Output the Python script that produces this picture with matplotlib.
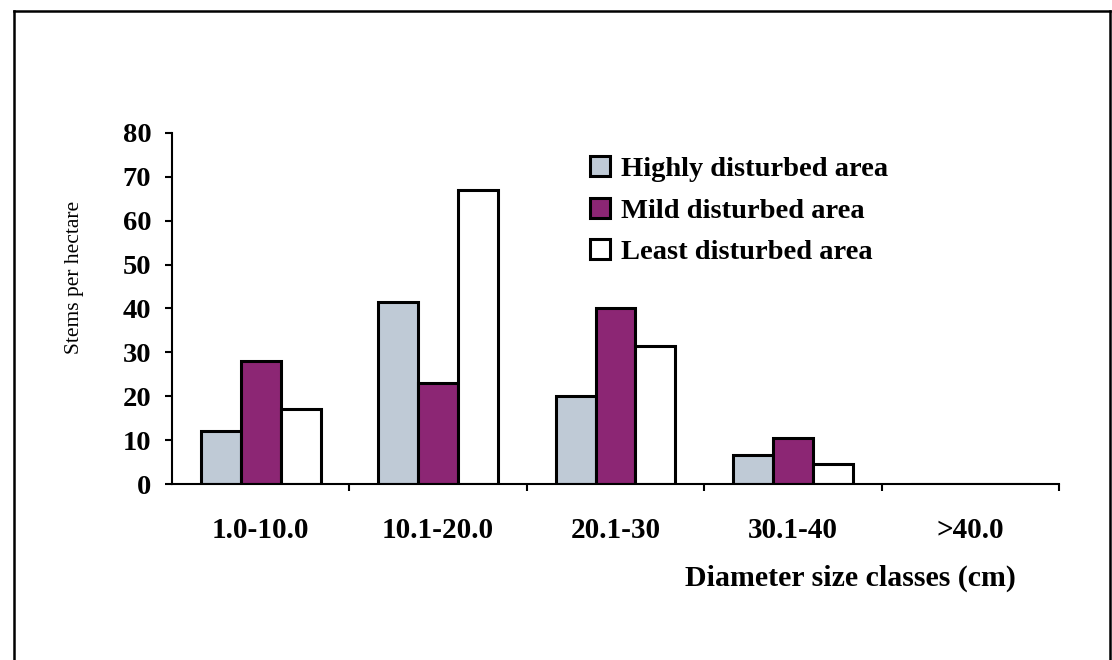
import matplotlib
matplotlib.use("Agg")
import matplotlib.pyplot as plt
import numpy as np
from matplotlib.lines import Line2D

categories = ["1.0-10.0", "10.1-20.0", "20.1-30", "30.1-40", ">40.0"]
highly = [12, 41.5, 20, 6.5, 0]
mild = [28, 23, 40, 10.5, 0]
least = [17, 67, 31.5, 4.5, 0]
series_names = ["Highly disturbed area", "Mild disturbed area", "Least disturbed area"]
yticks = [0, 10, 20, 30, 40, 50, 60, 70, 80]

plt.rcParams['font.family'] = ['Liberation Serif', 'DejaVu Serif']

W, H = 1112, 660
fig = plt.figure(figsize=(W / 100, H / 100), dpi=100)
ax = fig.add_axes([172 / W, 1 - 484 / H, (1059 - 172) / W, (484 - 133) / H])

x = np.arange(len(categories))
bw = 0.225
colors = ["#bfcad6", "#8c2674", "#ffffff"]
lw_bar = 2.2
b1 = ax.bar(x - bw, highly, bw, color=colors[0], edgecolor="black", linewidth=lw_bar, label=series_names[0])
b2 = ax.bar(x, mild, bw, color=colors[1], edgecolor="black", linewidth=lw_bar, label=series_names[1])
b3 = ax.bar(x + bw, least, bw, color=colors[2], edgecolor="black", linewidth=lw_bar, label=series_names[2])

ax.set_xlim(-0.5, len(categories) - 0.5)
ax.set_ylim(0, 80)
ax.set_yticks(yticks)
ax.set_xticks(x)
ax.set_xticklabels(categories, fontsize=21, fontweight="bold")
ax.set_xticks(np.arange(len(categories)) + 0.5, minor=True)
ax.tick_params(axis="x", which="major", length=0, pad=24)
ax.tick_params(axis="x", which="minor", length=5, width=1.5, direction="out")
ax.tick_params(axis="y", which="major", length=5, width=1.5, direction="out", pad=10, labelsize=20.5)
for lab in ax.get_yticklabels():
    lab.set_fontweight("bold")

for s in ["top", "right"]:
    ax.spines[s].set_visible(False)
for s in ["left", "bottom"]:
    ax.spines[s].set_linewidth(1.5)

leg = fig.legend(handles=[b1, b2, b3], loc="upper left",
                 bbox_to_anchor=(590 / W, 1 - 156 / H), frameon=False,
                 prop={"size": 20.5, "weight": "bold"}, handlelength=0.7, handleheight=0.7,
                 handletextpad=0.4, labelspacing=0.55, borderpad=0, borderaxespad=0)

fig.text(75 / W, 1 - 277 / H, "Stems per hectare", rotation=90, fontsize=15.5,
         ha="center", va="center")
fig.text(850 / W, 1 - 578 / H, "Diameter size classes (cm)", fontsize=21.5,
         fontweight="bold", ha="center", va="center")

# outer frame
fl = dict(color="black", linewidth=1.8, transform=fig.transFigure)
fig.add_artist(Line2D([14 / W, 14 / W], [0, 1 - 11 / H], **fl))
fig.add_artist(Line2D([14 / W, 1110 / W], [1 - 11 / H, 1 - 11 / H], **fl))
fig.add_artist(Line2D([1110 / W, 1110 / W], [0, 1 - 11 / H], **fl))

fig.savefig("out.png", dpi=100)
